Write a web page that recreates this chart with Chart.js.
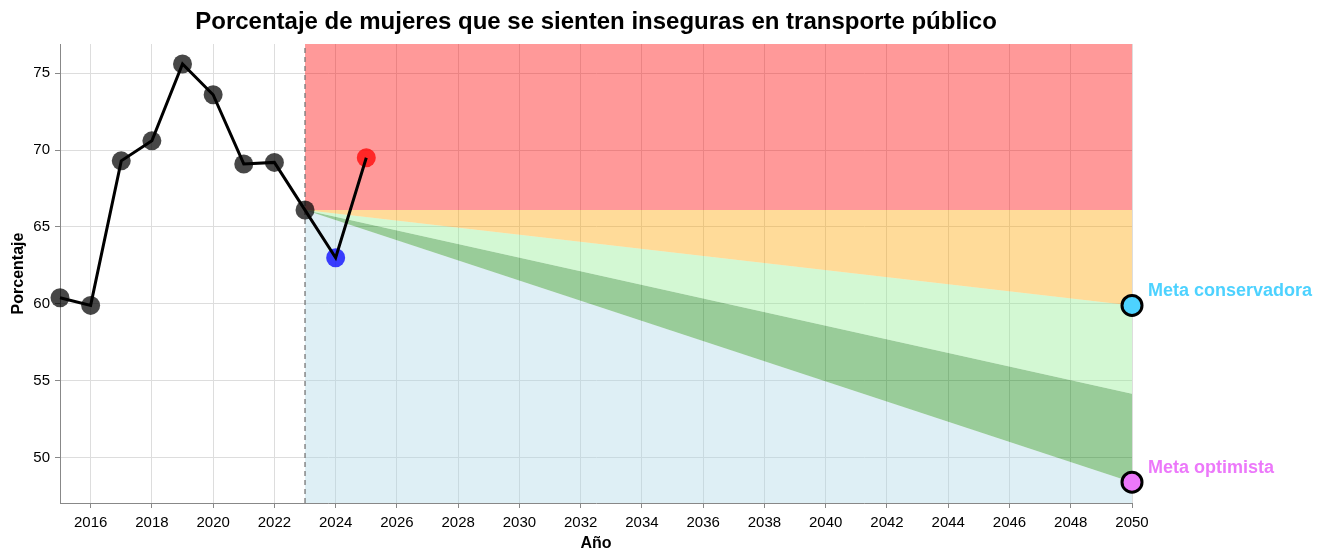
<!DOCTYPE html>
<html lang="es">
<head>
<meta charset="utf-8">
<title>Porcentaje de mujeres que se sienten inseguras en transporte público</title>
<script src="https://cdn.jsdelivr.net/npm/chart.js@4.4.1/dist/chart.umd.min.js"></script>
<style>
  html, body { margin: 0; padding: 0; background: #fff; }
  #wrap { width: 1328px; height: 553px; }
</style>
</head>
<body>
<div id="wrap"><canvas id="grafico"></canvas></div>
<script>
// === Datos observados
const anios = [2015, 2016, 2017, 2018, 2019, 2020, 2021, 2022, 2023];
const porcentajes = [60.4, 59.9, 69.3, 70.6, 75.6, 73.6, 69.1, 69.2, 66.1];

// === Años recientes (2024 baja, 2025 sube)
const aniosRecientes = [2024, 2025];
const porcentajesRecientes = [63.0, 69.5];

// === Proyección 2023 -> 2050
const aniosMeta = [2023, 2050];
const lineaBase = [66.1, 66.1];
const metaConservadora = [66.1, 59.9];
const metaIntermedia = [66.1, 54.15];
const metaOptimista = [66.1, 48.4];
const etiquetasMeta = ["Meta conservadora", "Meta optimista"];

// === Ejes
const ticksX = [2016, 2018, 2020, 2022, 2024, 2026, 2028, 2030, 2032, 2034,
  2036, 2038, 2040, 2042, 2044, 2046, 2048, 2050];
const ticksY = [50, 55, 60, 65, 70, 75];
const xMin = 2015, xMax = 2050;
const yMin = 47.05, yMax = 76.9;

const FUENTE = '"Liberation Sans", Arial, sans-serif';
const coloresMeta = ["#4dd2ff", "#ec78fa"];

const aPuntos = (xs, ys) => xs.map((x, i) => ({ x, y: ys[i] }));

const serieCompleta = aPuntos(anios.concat(aniosRecientes), porcentajes.concat(porcentajesRecientes));
const coloresPuntos = anios.map(() => "rgba(0,0,0,0.72)")
  .concat(["rgba(0,0,255,0.75)", "rgba(255,0,0,0.75)"]);

const banda = (ys, color, fill) => ({
  type: "line",
  data: aPuntos(aniosMeta, ys),
  borderWidth: 0,
  pointRadius: 0,
  backgroundColor: color,
  fill,
  order: 10
});

// Etiquetas de las metas al lado de los puntos
const etiquetasPlugin = {
  id: "etiquetasMeta",
  afterDatasetsDraw(chart) {
    const meta = chart.getDatasetMeta(8);
    const ctx = chart.ctx;
    ctx.save();
    ctx.font = "bold 18px " + FUENTE;
    ctx.textBaseline = "middle";
    ctx.textAlign = "left";
    meta.data.forEach((pt, i) => {
      ctx.fillStyle = coloresMeta[i];
      ctx.fillText(etiquetasMeta[i], pt.x + 16, pt.y - 14);
    });
    ctx.restore();
  }
};

const ctx = document.getElementById("grafico").getContext("2d");
new Chart(ctx, {
  type: "line",
  data: {
    datasets: [
      banda(lineaBase, "rgba(255,0,0,0.4)", "end"),          // 0 rojo
      banda(metaConservadora, "rgba(255,165,0,0.4)", 0),     // 1 naranja
      banda(metaIntermedia, "rgba(144,238,144,0.4)", 1),     // 2 verde claro
      banda(metaOptimista, "rgba(0,128,0,0.4)", 2),          // 3 verde oscuro
      banda(metaOptimista, "rgba(173,216,230,0.4)", "start"),// 4 celeste
      {
        // 5 línea punteada 2023
        type: "line",
        data: [{ x: aniosMeta[0], y: yMin }, { x: aniosMeta[0], y: yMax }],
        borderColor: "#777",
        borderWidth: 1.3,
        borderDash: [5, 4],
        pointRadius: 0,
        fill: false,
        order: 5
      },
      {
        // 6 puntos
        type: "line",
        data: serieCompleta,
        showLine: false,
        pointRadius: 9.5,
        pointBorderWidth: 0,
        pointBackgroundColor: coloresPuntos,
        pointBorderColor: coloresPuntos,
        clip: false,
        order: 3
      },
      {
        // 7 línea negra
        type: "line",
        data: serieCompleta,
        borderColor: "#000",
        borderWidth: 3,
        pointRadius: 0,
        fill: false,
        clip: false,
        order: 2
      },
      {
        // 8 metas
        type: "line",
        data: aPuntos([aniosMeta[1], aniosMeta[1]], [metaConservadora[1], metaOptimista[1]]),
        showLine: false,
        pointRadius: 10,
        pointBorderWidth: 3,
        pointBorderColor: "#000",
        pointBackgroundColor: coloresMeta,
        clip: false,
        order: 1
      }
    ]
  },
  options: {
    responsive: true,
    maintainAspectRatio: false,
    animation: false,
    layout: { padding: { right: 196 } },
    plugins: {
      legend: { display: false },
      tooltip: { enabled: false },
      title: {
        display: true,
        fullSize: false,
        text: "Porcentaje de mujeres que se sienten inseguras en transporte público",
        color: "#000",
        font: { family: FUENTE, size: 24, weight: "bold" },
        padding: { top: 8, bottom: 7.2 }
      }
    },
    scales: {
      x: {
        type: "linear",
        min: xMin,
        max: xMax,
        afterBuildTicks: s => { s.ticks = ticksX.map(v => ({ value: v })); },
        afterFit: s => { s.height = 50; },
        ticks: {
          color: "#000",
          font: { family: FUENTE, size: 15 },
          padding: 6,
          maxRotation: 0,
          autoSkip: false,
          callback: v => String(v)
        },
        grid: { color: "#ddd", tickColor: "#888", tickLength: 5 },
        border: { color: "#888" },
        title: {
          display: true,
          text: "Año",
          color: "#000",
          font: { family: FUENTE, size: 16, weight: "bold" },
          padding: 0
        }
      },
      y: {
        type: "linear",
        min: yMin,
        max: yMax,
        afterBuildTicks: s => { s.ticks = ticksY.map(v => ({ value: v })); },
        afterFit: s => { s.width = 60; },
        ticks: {
          color: "#000",
          font: { family: FUENTE, size: 15 },
          padding: 5,
          callback: v => String(v)
        },
        grid: { color: "#ddd", tickColor: "#888", tickLength: 5 },
        border: { color: "#888" },
        title: {
          display: true,
          text: "Porcentaje",
          color: "#000",
          font: { family: FUENTE, size: 16, weight: "bold" },
          padding: { top: 9, bottom: 0 }
        }
      }
    }
  },
  plugins: [etiquetasPlugin]
});
</script>
</body>
</html>
